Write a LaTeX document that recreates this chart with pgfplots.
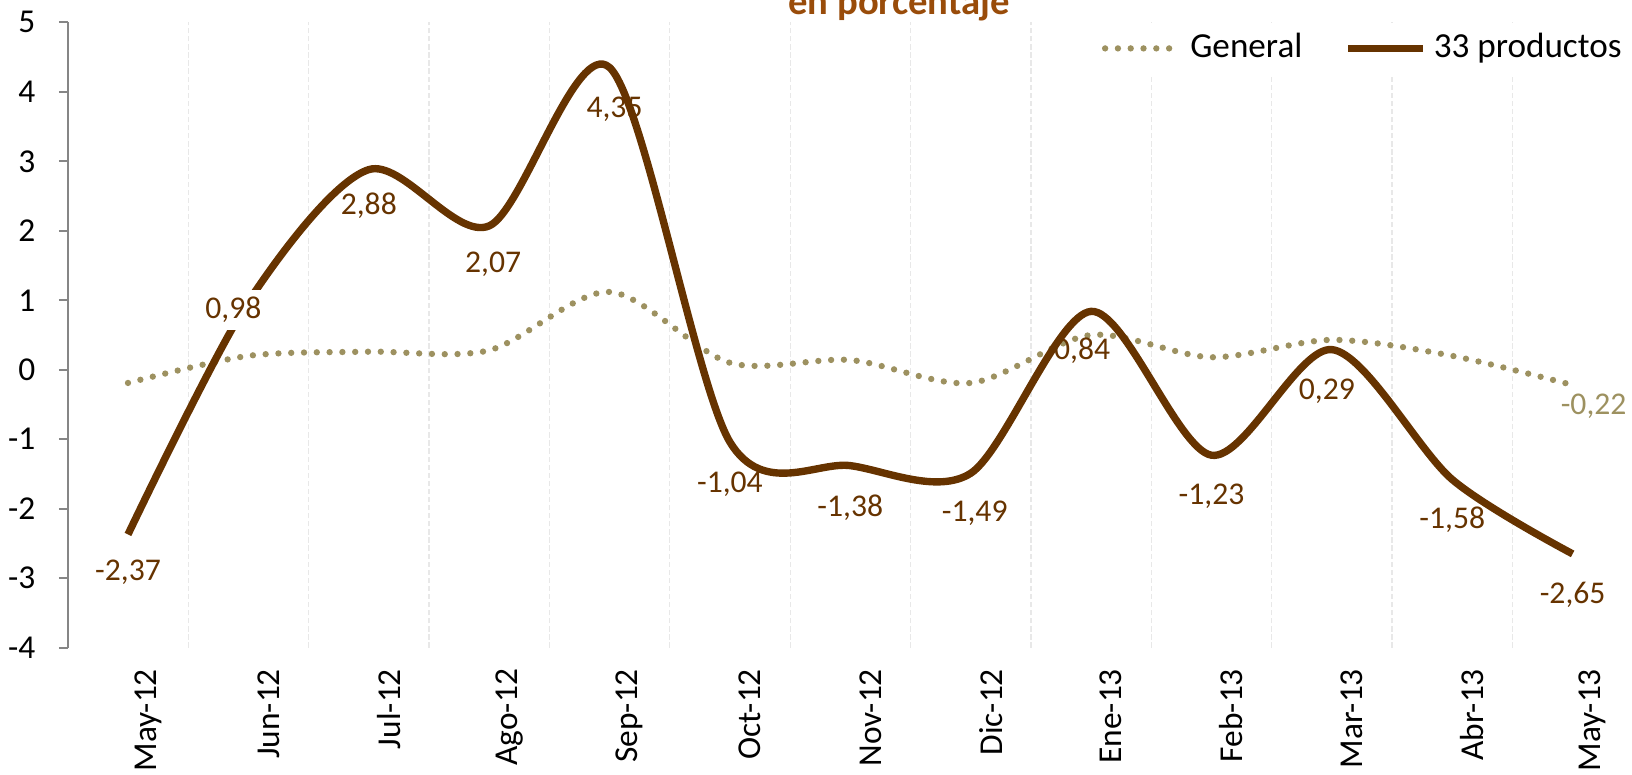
\documentclass[border=0pt]{standalone}
\usepackage{fontspec}
\setmainfont{Carlito}
\usepackage{pgfplots}
\pgfplotsset{compat=1.18}
\definecolor{prod}{RGB}{102,51,0}
\definecolor{gen}{RGB}{157,145,96}
\definecolor{titlec}{RGB}{153,76,10}
\definecolor{axisgray}{RGB}{134,134,134}
\definecolor{gridgray}{RGB}{232,232,232}

\begin{document}
\begin{tikzpicture}
\useasboundingbox (0,0) rectangle (16.32,7.74);
\begin{axis}[
    at={(0.678cm,1.263cm)}, anchor=south west,
    scale only axis, width=15.65cm, height=6.254cm,
    xmin=-0.5, xmax=12.5, ymin=-4, ymax=5,
    axis y line*=left, axis x line*=bottom,
    x axis line style={draw=none},
    y axis line style={axisgray, line width=0.6pt, -},
    xtick={0,...,12},
    xticklabels={May-12,Jun-12,Jul-12,Ago-12,Sep-12,Oct-12,Nov-12,Dic-12,Ene-13,Feb-13,Mar-13,Abr-13,May-13},
    minor xtick={0.5,1.5,...,11.5},
    xminorgrids,
    minor grid style={gridgray, dash pattern=on 1.5pt off 0.8pt, line width=0.35pt},
    xtick style={draw=none},
    minor x tick style={draw=none},
    ytick={-4,...,5},
    ytick style={axisgray, line width=0.6pt},
    tick align=outside, major tick length=0.9mm,
    /pgf/number format/assume math mode=true,
    tick label style={font=\fontsize{9.5}{11}\selectfont},
    x tick label style={rotate=90, anchor=east, yshift=-2.0mm},
    y tick label style={xshift=-1.1mm},
    legend style={draw=none, fill=white, font=\fontsize{10}{12}\selectfont,
        at={(rel axis cs:1,1)}, anchor=north east, legend columns=2,
        /tikz/every even column/.append style={column sep=3.5mm},
        inner sep=1pt},
    legend image code/.code={\draw[#1] (0mm,0mm) -- (7.5mm,0mm);},
]
\addplot[gen, line width=1.8pt, line cap=round, dash pattern=on 0pt off 1.28mm, smooth] coordinates {
    (0,-0.19) (1,0.20) (2,0.26) (3,0.28) (4,1.12) (5,0.10) (6,0.14)
    (7,-0.19) (8,0.50) (9,0.18) (10,0.43) (11,0.20) (12,-0.22)
};
\addlegendentry{General}
\addplot[prod, line width=2.1pt, smooth] coordinates {
    (0,-2.37) (1,0.98) (2,2.88) (3,2.07) (4,4.35) (5,-1.04) (6,-1.38)
    (7,-1.49) (8,0.84) (9,-1.23) (10,0.29) (11,-1.58) (12,-2.65)
};
\addlegendentry{33 productos}

% etiquetas de datos
\begin{scope}[every node/.style={font=\fontsize{9}{11}\selectfont, text=prod, anchor=center}]
\node[yshift=-3.8mm] at (axis cs:0,-2.37) {-2,37};
\node[fill=white, inner sep=2pt, xshift=-1.5mm, yshift=-0.8mm] at (axis cs:1,0.98) {0,98};
\node[yshift=-3.6mm] at (axis cs:2,2.88) {2,88};
\node[yshift=-3.8mm, xshift=0.4mm] at (axis cs:3,2.07) {2,07};
\node[yshift=-4.2mm, xshift=0.5mm] at (axis cs:4,4.35) {4,35};
\node[yshift=-4.2mm] at (axis cs:5,-1.04) {-1,04};
\node[yshift=-4.2mm] at (axis cs:6,-1.38) {-1,38};
\node[yshift=-4mm, xshift=0.4mm] at (axis cs:7,-1.49) {-1,49};
\node[yshift=-3.9mm, xshift=-0.9mm] at (axis cs:8,0.84) {0,84};
\node[yshift=-4.1mm] at (axis cs:9,-1.23) {-1,23};
\node[yshift=-4.2mm, xshift=-0.5mm] at (axis cs:10,0.29) {0,29};
\node[yshift=-4mm] at (axis cs:11,-1.58) {-1,58};
\node[yshift=-4.1mm] at (axis cs:12,-2.65) {-2,65};
\node[text=gen, yshift=-2.1mm, xshift=2.1mm] at (axis cs:12,-0.22) {-0,22};
\end{scope}
\end{axis}
\node[font=\bfseries\fontsize{11}{13}\selectfont, text=titlec, anchor=base] at (8.99,7.59) {en porcentaje};
\end{tikzpicture}
\end{document}
